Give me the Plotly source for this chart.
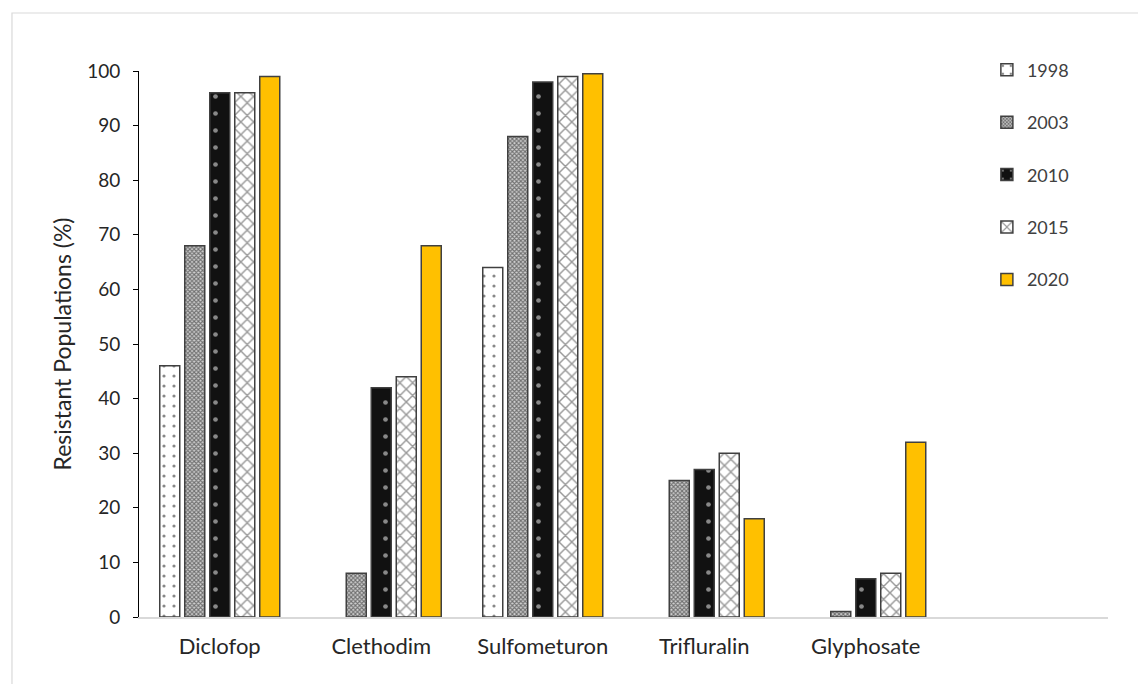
import plotly.graph_objects as go

categories = ["Diclofop", "Clethodim", "Sulfometuron", "Trifluralin", "Glyphosate"]
years = ["1998", "2003", "2010", "2015", "2020"]
values = {
    "1998": [46, None, 64, None, None],
    "2003": [68, 8, 88, 25, 1],
    "2010": [96, 42, 98, 27, 7],
    "2015": [96, 44, 99, 30, 8],
    "2020": [99, 68, 99.5, 18, 32],
}
yticks = [0, 10, 20, 30, 40, 50, 60, 70, 80, 90, 100]

styles = {
    "1998": dict(color="white", pattern=dict(shape=".", fgcolor="#111111", bgcolor="white", size=10, solidity=0.08)),
    "2003": dict(color="white", pattern=dict(shape="x", fgcolor="#111111", bgcolor="#d0d0d0", size=3, solidity=0.6)),
    "2010": dict(color="#111111", pattern=dict(shape=".", fgcolor="white", bgcolor="#111111", size=17, solidity=0.06)),
    "2015": dict(color="white", pattern=dict(shape="x", fgcolor="#333333", bgcolor="white", size=9, solidity=0.3)),
    "2020": dict(color="#FFC000"),
}

FONT = "Lato"
fig = go.Figure()
xs = list(range(len(categories)))
for yr in years:
    st = styles[yr]
    fig.add_trace(go.Bar(
        x=xs, y=values[yr], name=yr, legendgroup=yr,
        marker=dict(color=st["color"], pattern=st.get("pattern"),
                    line=dict(color="#404040", width=1.5)),
    ))

fig.update_layout(
    width=1146, height=684,
    margin=dict(l=131, r=46, t=63, b=75),
    paper_bgcolor="white", plot_bgcolor="white",
    barmode="group", bargap=0.226, bargroupgap=0.2,
    font=dict(family=FONT, size=17, color="#404040"),
    showlegend=True,
    legend=dict(x=0.875, y=1.0355, xanchor="left", yanchor="top",
                font=dict(size=18, color="#404040"), tracegroupgap=26,
                bgcolor="rgba(0,0,0,0)"),
    xaxis=dict(range=[-0.5, 5.5], tickvals=xs, ticktext=categories,
               showline=True, linecolor="#d9d9d9", linewidth=1.5,
               showgrid=False, zeroline=False, ticks="", ticklen=0,
               ticklabelstandoff=9,
               tickfont=dict(size=22, color="#262626")),
    yaxis=dict(range=[0, 100], tickvals=yticks, showline=True, linecolor="black",
               linewidth=1, ticks="outside", ticklen=5, tickcolor="black",
               showgrid=False, zeroline=False, ticklabelstandoff=9,
               tickfont=dict(size=19, color="#262626"),
               title=dict(text="Resistant Populations (%)", font=dict(size=23, color="#262626"), standoff=9)),
    shapes=[dict(type="rect", xref="paper", yref="paper",
                 x0=-0.1311, y0=-0.2, x1=1.06, y1=1.1062,
                 line=dict(color="#d9d9d9", width=1.2), fillcolor="rgba(0,0,0,0)", layer="below")],
)

fig.write_html("out.html")
